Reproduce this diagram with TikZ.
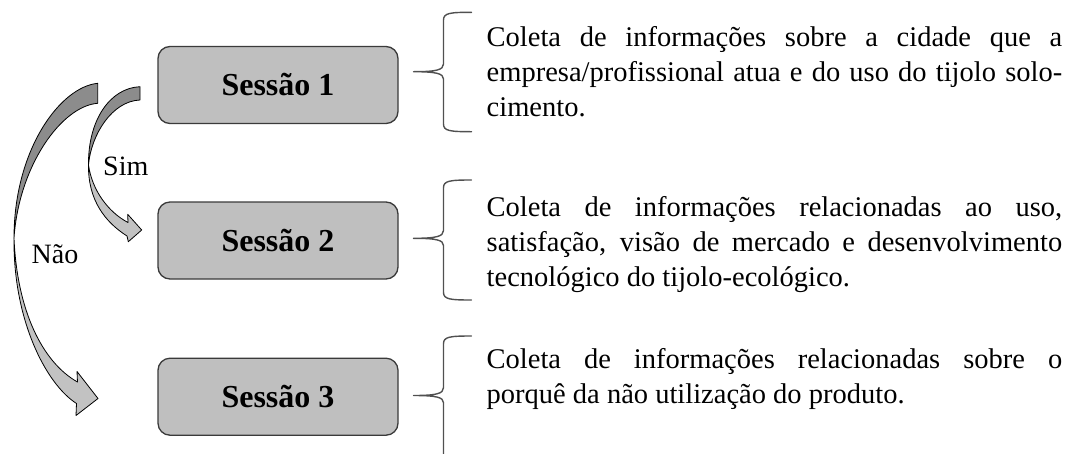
\documentclass[tikz,border=0pt]{standalone}
\usepackage{fontspec}
\setmainfont{Liberation Serif}
\definecolor{boxfill}{HTML}{BFBFBF}
\definecolor{boxline}{HTML}{3A3A3A}
\definecolor{braceline}{HTML}{505050}
\definecolor{darkface}{HTML}{8C8C8C}
\definecolor{lightface}{HTML}{C2C2C2}
\newcommand{\desctext}{\fontsize{28.5pt}{35pt}\selectfont\tolerance=10000\hyphenpenalty=10000\hbadness=10000\relax}
\begin{document}
\begin{tikzpicture}[x=1pt,y=-1pt,
  box/.style={draw=boxline, fill=boxfill, line width=1.3pt, rounded corners=12pt,
    minimum width=240pt, minimum height=77pt, inner sep=0pt,
    text height=21pt, text depth=0pt, font=\fontsize{32pt}{38pt}\selectfont\bfseries},
  bracepath/.style={draw=braceline, line width=1.4pt, line join=round, line cap=round},
  desc/.style={anchor=base west, inner sep=0pt},
  lbl/.style={anchor=base west, inner sep=0pt, font=\fontsize{28pt}{34pt}\selectfont},
  backface/.style={draw=black, fill=darkface, line width=0.8pt, line join=round},
  frontface/.style={draw=black, fill=lightface, line width=0.8pt, line join=round}]
\useasboundingbox (0,0) rectangle (1075,453);

% boxes
\node[box] (s1) at (278,85) {Sessão 1};
\node[box] (s2) at (278,240.5) {Sessão 2};
\node[box] (s3) at (278,396.7) {Sessão 3};

% descriptions
\node[desc] (d1) at (486.5,46.7) {\parbox[t]{575.5pt}{\desctext Coleta de informações sobre a cidade que a\linebreak empresa/profissional atua e do uso do tijolo solo-\linebreak cimento.}};
\node[desc] (d2) at (486.5,216.7) {\parbox[t]{575.5pt}{\desctext Coleta de informações relacionadas ao uso,\linebreak satisfação, visão de mercado e desenvolvimento\linebreak tecnológico do tijolo-ecológico.}};
\node[desc] (d3) at (486.5,368) {\parbox[t]{575.5pt}{\desctext Coleta de informações relacionadas sobre o\linebreak porquê da não utilização do produto.}};

% braces
\draw[bracepath] (471.5,12.3) .. controls (450,12.3) and (443.5,13) .. (443.5,20)
  -- (443.5,64) .. controls (443.5,70) and (436,71.7) .. (413.5,71.7)
  .. controls (436,71.7) and (443.5,73.5) .. (443.5,79)
  -- (443.5,124) .. controls (443.5,131) and (450,131.7) .. (471.5,131.7);
\draw[bracepath] (471.5,180) .. controls (450,180) and (443.5,180.7) .. (443.5,187.7)
  -- (443.5,230.5) .. controls (443.5,236.5) and (436,238.3) .. (413.5,238.3)
  .. controls (436,238.3) and (443.5,240) .. (443.5,245.5)
  -- (443.5,292.3) .. controls (443.5,299.3) and (450,300) .. (471.5,300);
\draw[bracepath] (471.5,336) .. controls (450,336) and (443.5,336.7) .. (443.5,343.7)
  -- (443.5,387.7) .. controls (443.5,393.7) and (436,395.5) .. (413.5,395.5)
  .. controls (436,395.5) and (443.5,397.2) .. (443.5,402.7)
  -- (443.5,460);

% "Nao" curved arrow
\coordinate (n-tt) at (97.7,83.3);
\coordinate (n-tb) at (97.7,103.3);
\coordinate (n-m) at (14,238);
\coordinate (n-ln) at (76.5,403.5);
\coordinate (n-lb) at (76,415.5);
\coordinate (n-tip) at (98,398.5);
\coordinate (n-ub) at (77,371.5);
\coordinate (n-un) at (77.5,382);
\path[backface] (n-tt) -- (n-tb) .. controls (62,106) and (19,165) .. (n-m)
  .. controls (14,150) and (60,87) .. (n-tt) -- cycle;
\path[frontface] (n-m) .. controls (13,320) and (46,384) .. (n-ln) -- (n-lb) -- (n-tip)
  -- (n-ub) -- (n-un) .. controls (42,362) and (17,310) .. (n-m) -- cycle;

% "Sim" curved arrow
\coordinate (s-tt) at (140,86.7);
\coordinate (s-tb) at (140,100);
\coordinate (s-m) at (88.5,165);
\coordinate (s-ln) at (127,236);
\coordinate (s-lb) at (128.3,241.7);
\coordinate (s-tip) at (141.7,230);
\coordinate (s-ub) at (127.7,214.3);
\coordinate (s-un) at (128,222.5);
\path[backface] (s-tt) -- (s-tb) .. controls (112,101) and (91,135) .. (s-m)
  .. controls (88,120) and (110,88) .. (s-tt) -- cycle;
\path[frontface] (s-m) .. controls (88,200) and (105,222) .. (s-ln) -- (s-lb) -- (s-tip)
  -- (s-ub) -- (s-un) .. controls (108,212) and (92,190) .. (s-m) -- cycle;

% labels
\node[lbl] (sim) at (103,175.5) {Sim};
\node[lbl] (nao) at (31.5,263.5) {Não};
\end{tikzpicture}
\end{document}
